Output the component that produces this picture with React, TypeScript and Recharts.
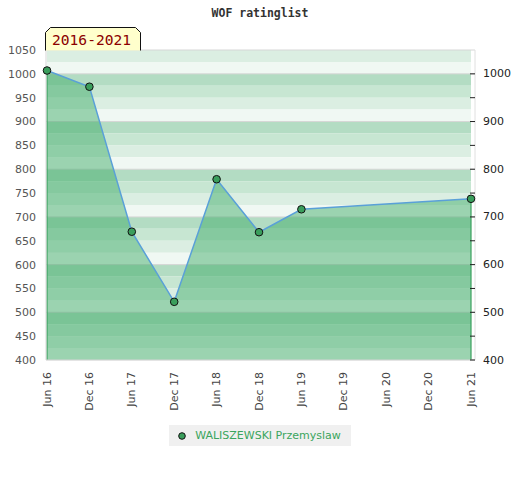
import { ComposedChart, Area, XAxis, YAxis, ReferenceArea, ReferenceLine, Legend } from 'recharts';

// months counted from Jun 2016
const MONTHS = [0, 6, 12, 18, 24, 30, 36, 60];
const RATINGS = [1007, 973, 669, 522, 779, 668, 716, 738];
const X_TICKS = [0, 6, 12, 18, 24, 30, 36, 42, 48, 54, 60];
const X_LABELS = ['Jun 16', 'Dec 16', 'Jun 17', 'Dec 17', 'Jun 18', 'Dec 18', 'Jun 19', 'Dec 19', 'Jun 20', 'Dec 20', 'Jun 21'];
const LEFT_TICKS = [400, 450, 500, 550, 600, 650, 700, 750, 800, 850, 900, 950, 1000, 1050];
const RIGHT_TICKS = [400, 450, 500, 550, 600, 650, 700, 750, 800, 850, 900, 950, 1000];
const GRID_LINES = [400, 500, 600, 700, 800, 900, 1000, 1050];
const PLAYER = 'WALISZEWSKI Przemyslaw';
const TITLE = 'WOF ratinglist';
const PERIOD = '2016-2021';

const Y_MIN = 400;
const Y_MAX = 1050;
// from top of each 100 block downward
const BAND_COLORS = ['#b3dcc3', '#c7e6d2', '#dbeee2', '#f0f8f3'];

const data = MONTHS.map((m, i) => ({ m, rating: RATINGS[i] }));

const bands: { y1: number; y2: number; color: string }[] = [];
for (let top = Y_MAX; top > Y_MIN; top -= 25) {
  const pos = ((100 - (top % 100)) % 100) / 25;
  bands.push({ y1: top - 25, y2: top, color: BAND_COLORS[pos] });
}

const GREEN = '#3a9e5c';
const FONT = '"DejaVu Sans", Verdana, sans-serif';
const MONO = '"DejaVu Sans Mono", monospace';

function XTick({ x, y, payload }: any) {
  const i = X_TICKS.indexOf(payload.value);
  return (
    <text
      x={x}
      y={y + 4}
      transform={`rotate(-90, ${x}, ${y + 4})`}
      textAnchor="end"
      dominantBaseline="central"
      fontSize={11}
      fontFamily={FONT}
      fill="#444"
    >
      {X_LABELS[i]}
    </text>
  );
}

function RightTick({ x, y, payload }: any) {
  return (
    <g>
      <line x1={x - 5} x2={x} y1={y} y2={y} stroke="#222" strokeWidth={1} />
      {payload.value % 100 === 0 && (
        <text x={x + 8} y={y} dominantBaseline="central" fontSize={11} fontFamily={FONT} fill="#222">
          {payload.value}
        </text>
      )}
    </g>
  );
}

function Dot({ cx, cy }: any) {
  if (cx == null || cy == null) return null;
  return <circle cx={cx} cy={cy} r={3.8} fill={GREEN} stroke="#111" strokeWidth={1} />;
}

function LegendBox() {
  return (
    <div style={{ height: 60, display: 'flex', justifyContent: 'center' }}>
      <div
        style={{
          marginTop: 5,
          height: 21,
          background: '#f0f0f0',
          display: 'flex',
          alignItems: 'center',
          padding: '0 10px 0 8px',
          fontFamily: FONT,
          fontSize: 11,
          color: '#3aa55d',
        }}
      >
        <svg width={14} height={10} style={{ marginRight: 4 }}>
          <circle cx={5} cy={5} r={3.3} fill={GREEN} stroke="#111" strokeWidth={1} />
        </svg>
        {PLAYER}
      </div>
    </div>
  );
}

export default function App() {
  return (
    <div style={{ position: 'relative', width: 520, height: 480, background: '#fff' }}>
      <style>{'body{margin:0}'}</style>
      <ComposedChart width={520} height={480} data={data} margin={{ top: 50, right: 0, bottom: 0, left: 0 }}>
        {bands.map((b, i) => (
          <ReferenceArea
            key={i}
            yAxisId="l"
            y1={b.y1}
            y2={b.y2}
            fill={b.color}
            fillOpacity={1}
            stroke="none"
            zIndex={-20}
          />
        ))}
        {GRID_LINES.map(v => (
          <ReferenceLine key={v} yAxisId="l" y={v} stroke="#d6d6d6" strokeWidth={1} zIndex={-10} />
        ))}
        <XAxis
          dataKey="m"
          type="number"
          domain={[0, 60]}
          ticks={X_TICKS}
          interval={0}
          padding={{ left: 1, right: 4 }}
          height={60}
          axisLine={{ stroke: '#ddd' }}
          tickLine={false}
          tick={<XTick />}
        />
        <YAxis
          yAxisId="l"
          orientation="left"
          width={46}
          domain={[Y_MIN, Y_MAX]}
          ticks={LEFT_TICKS}
          interval={0}
          allowDataOverflow
          axisLine={{ stroke: '#d6d6d6' }}
          tickLine={false}
          tickSize={0}
          tickMargin={10}
          tick={{ fontSize: 11, fontFamily: FONT, fill: '#555' }}
        />
        <YAxis
          yAxisId="r"
          orientation="right"
          width={45}
          domain={[Y_MIN, Y_MAX]}
          ticks={RIGHT_TICKS}
          interval={0}
          allowDataOverflow
          axisLine={{ stroke: '#e0e0e0' }}
          tickLine={false}
          tickSize={0}
          tickMargin={0}
          tick={<RightTick />}
        />
        <Area
          yAxisId="l"
          type="linear"
          dataKey="rating"
          name={PLAYER}
          stroke="#5aa0d8"
          strokeWidth={1.5}
          fill="rgb(55,168,97)"
          fillOpacity={0.46}
          dot={<Dot />}
          activeDot={false}
          isAnimationActive={false}
        />
        <ReferenceLine
          yAxisId="l"
          segment={[{ x: MONTHS[0], y: Y_MIN }, { x: MONTHS[0], y: RATINGS[0] }]}
          stroke={GREEN}
          strokeWidth={1.2}
          zIndex={90}
        />
        <ReferenceLine
          yAxisId="l"
          segment={[
            { x: MONTHS[MONTHS.length - 1], y: Y_MIN },
            { x: MONTHS[MONTHS.length - 1], y: RATINGS[RATINGS.length - 1] },
          ]}
          stroke={GREEN}
          strokeWidth={1.2}
          zIndex={90}
        />
        <Legend verticalAlign="bottom" content={<LegendBox />} />
      </ComposedChart>
      <svg width={520} height={52} style={{ position: 'absolute', left: 0, top: 0, pointerEvents: 'none' }}>
        <text x={260} y={17} textAnchor="middle" fontFamily={MONO} fontWeight="bold" fontSize={11.5} fill="#333">
          {TITLE}
        </text>
        <path d="M45.5,50.5 V32.5 L50.5,27.5 H135.5 L140.5,32.5 V50.5" fill="#ffffcc" stroke="#111" strokeWidth={1} />
        <text x={52} y={45} fontFamily={MONO} fontSize={14.6} fill="#8b0000">
          {PERIOD}
        </text>
      </svg>
    </div>
  );
}
